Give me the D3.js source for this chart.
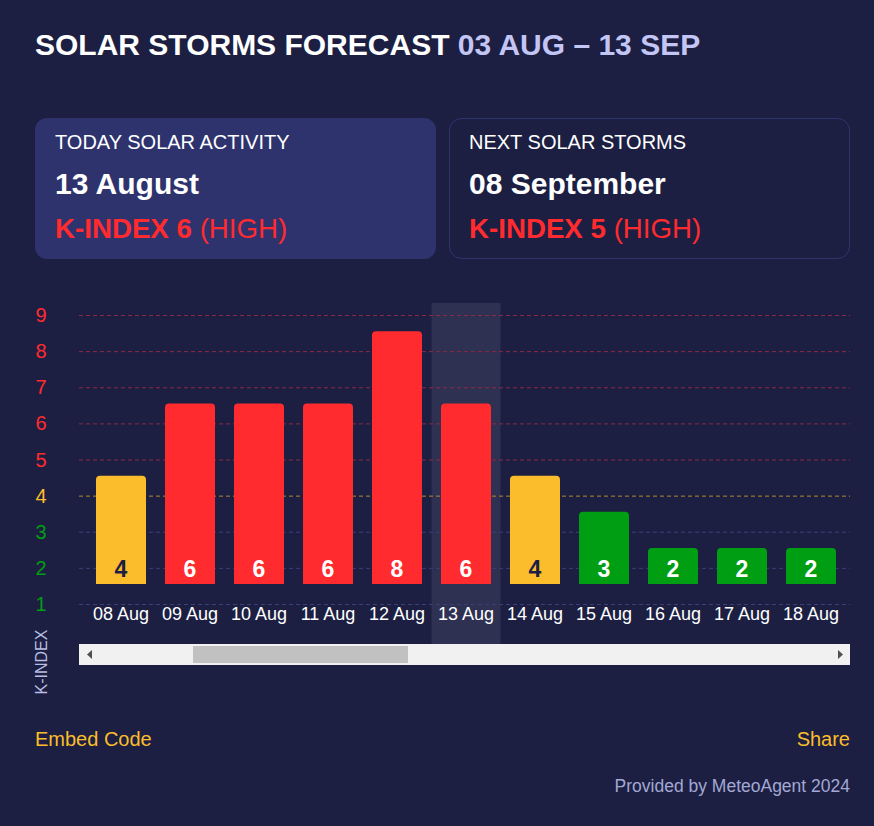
<!DOCTYPE html>
<html><head><meta charset="utf-8">
<script src="https://cdn.jsdelivr.net/npm/d3@7"></script>
<style>
html,body{margin:0;padding:0;background:#1c1f42;}
svg{display:block;font-family:"Liberation Sans",Arial,sans-serif;}
</style></head>
<body>
<svg id="chart" width="874" height="826"></svg>
<script>
const dates = ["08 Aug","09 Aug","10 Aug","11 Aug","12 Aug","13 Aug","14 Aug","15 Aug","16 Aug","17 Aug","18 Aug"];
const kIndex = [4,6,6,6,8,6,4,3,2,2,2];
const yTicks = [1,2,3,4,5,6,7,8,9];
const todayLabel = "13 Aug";
const titleMain = "SOLAR STORMS FORECAST ";
const titleRange = "03 AUG – 13 SEP";
const cards = [
  {head:"TODAY SOLAR ACTIVITY", date:"13 August", k:"K-INDEX 6", level:" (HIGH)"},
  {head:"NEXT SOLAR STORMS", date:"08 September", k:"K-INDEX 5", level:" (HIGH)"}
];

const C = {bg:"#1c1f42", red:"#ff2b2e", yellow:"#fbbd2b", green:"#009e12", card:"#2e336e", cardStroke:"#2e3470",
  gridRed:"#8c2a44", gridYellow:"#b58a2b", gridBlue:"#3a3f78", dark:"#1c1f42"};
const levelColor = v => v >= 5 ? C.red : v === 4 ? C.yellow : C.green;
const gridColor = v => v >= 5 ? C.gridRed : v === 4 ? C.gridYellow : C.gridBlue;

const svg = d3.select("#chart");
svg.append("rect").attr("width",874).attr("height",826).attr("fill",C.bg);

// Title
const t = svg.append("text").attr("x",35).attr("y",55).attr("font-size",30).attr("font-weight","bold");
t.append("tspan").attr("fill","#ffffff").text(titleMain);
t.append("tspan").attr("fill","#c3c6f5").text(titleRange);

// Cards
cards.forEach((c,i) => {
  const x0 = 35 + i*414;
  const g = svg.append("g").attr("transform",`translate(${x0},118)`);
  g.append("rect").attr("x", i?0.5:0).attr("y", i?0.5:0).attr("width", i?400:401).attr("height", i?140:141).attr("rx",12)
    .attr("fill", i ? "none" : C.card).attr("stroke", i ? C.cardStroke : "none");
  g.append("text").attr("x",20).attr("y",31).attr("font-size",20).attr("fill","#ffffff").text(c.head);
  g.append("text").attr("x",20).attr("y",76).attr("font-size",30).attr("font-weight","bold").attr("fill","#ffffff").text(c.date);
  const k = g.append("text").attr("x",20).attr("y",120).attr("font-size",27.7).attr("fill",C.red);
  k.append("tspan").attr("font-weight","bold").text(c.k);
  k.append("tspan").text(c.level);
});

// Scales
const x = d3.scaleBand().domain(dates).range([86.5,845.5]).paddingInner(0.275).paddingOuter(0.1375);
const y = d3.scaleLinear().domain([1,9]).range([604,315]);
const yBar = d3.scaleLinear().domain([1,9]).range([584,295]);
const step = x.step();

// Highlight band for today
svg.append("rect").attr("x", x(todayLabel) - (step - x.bandwidth())/2).attr("y",303)
  .attr("width", step).attr("height", 341).attr("fill","#2e3152");

// Grid lines
svg.append("g").selectAll("line").data(yTicks).join("line")
  .attr("x1",79).attr("x2",850).attr("y1",d=>y(d)+0.5).attr("y2",d=>y(d)+0.5)
  .attr("stroke",d=>gridColor(d)).attr("stroke-width",1).attr("stroke-dasharray","4,3");

// Y axis labels
svg.append("g").selectAll("text").data(yTicks).join("text")
  .attr("x",41).attr("y",d=>y(d)+7).attr("text-anchor","middle").attr("font-size",20)
  .attr("fill",d=>levelColor(d)).text(d=>d);

svg.append("text").attr("transform","translate(47,662) rotate(-90)").attr("text-anchor","middle")
  .attr("font-size",16).attr("fill","#b7bde3").text("K-INDEX");

// Bars (rounded top corners)
const r = 4;
function barPath(d){
  const x0 = x(d.date), w = x.bandwidth(), y0 = yBar(d.v), y1 = yBar(1);
  return `M${x0},${y1}V${y0+r}Q${x0},${y0} ${x0+r},${y0}H${x0+w-r}Q${x0+w},${y0} ${x0+w},${y0+r}V${y1}Z`;
}
const data = dates.map((d,i)=>({date:d, v:kIndex[i]}));
svg.append("g").selectAll("path").data(data).join("path")
  .attr("d",barPath).attr("fill",d=>levelColor(d.v));

// Value labels
svg.append("g").selectAll("text").data(data).join("text")
  .attr("x",d=>x(d.date)+x.bandwidth()/2).attr("y",577).attr("text-anchor","middle")
  .attr("font-size",23).attr("font-weight","bold")
  .attr("fill",d=>d.v===4 ? C.dark : "#ffffff").text(d=>d.v);

// X axis labels
const xAxis = d3.axisBottom(x).tickSize(0).tickPadding(0);
const gx = svg.append("g").attr("transform","translate(0,620)").call(xAxis);
gx.select(".domain").remove();
gx.selectAll("text").attr("font-size",18).attr("fill","#ffffff").attr("font-family","Liberation Sans, Arial, sans-serif").attr("dy",0);

// Scrollbar
svg.append("rect").attr("x",79).attr("y",644).attr("width",771).attr("height",21).attr("fill","#f1f1f1");
svg.append("rect").attr("x",193).attr("y",646).attr("width",215).attr("height",17).attr("fill","#c1c1c1");
svg.append("path").attr("d","M87,654.5L92,650V659Z").attr("fill","#505050");
svg.append("path").attr("d","M843,654.5L838,650V659Z").attr("fill","#505050");

// Footer
svg.append("text").attr("x",35).attr("y",746).attr("font-size",20).attr("fill",C.yellow).text("Embed Code");
svg.append("text").attr("x",850).attr("y",746).attr("text-anchor","end").attr("font-size",20).attr("fill",C.yellow).text("Share");
svg.append("text").attr("x",850).attr("y",792).attr("text-anchor","end").attr("font-size",17.5).attr("fill","#a3a8d4").text("Provided by MeteoAgent 2024");
</script>
</body></html>
